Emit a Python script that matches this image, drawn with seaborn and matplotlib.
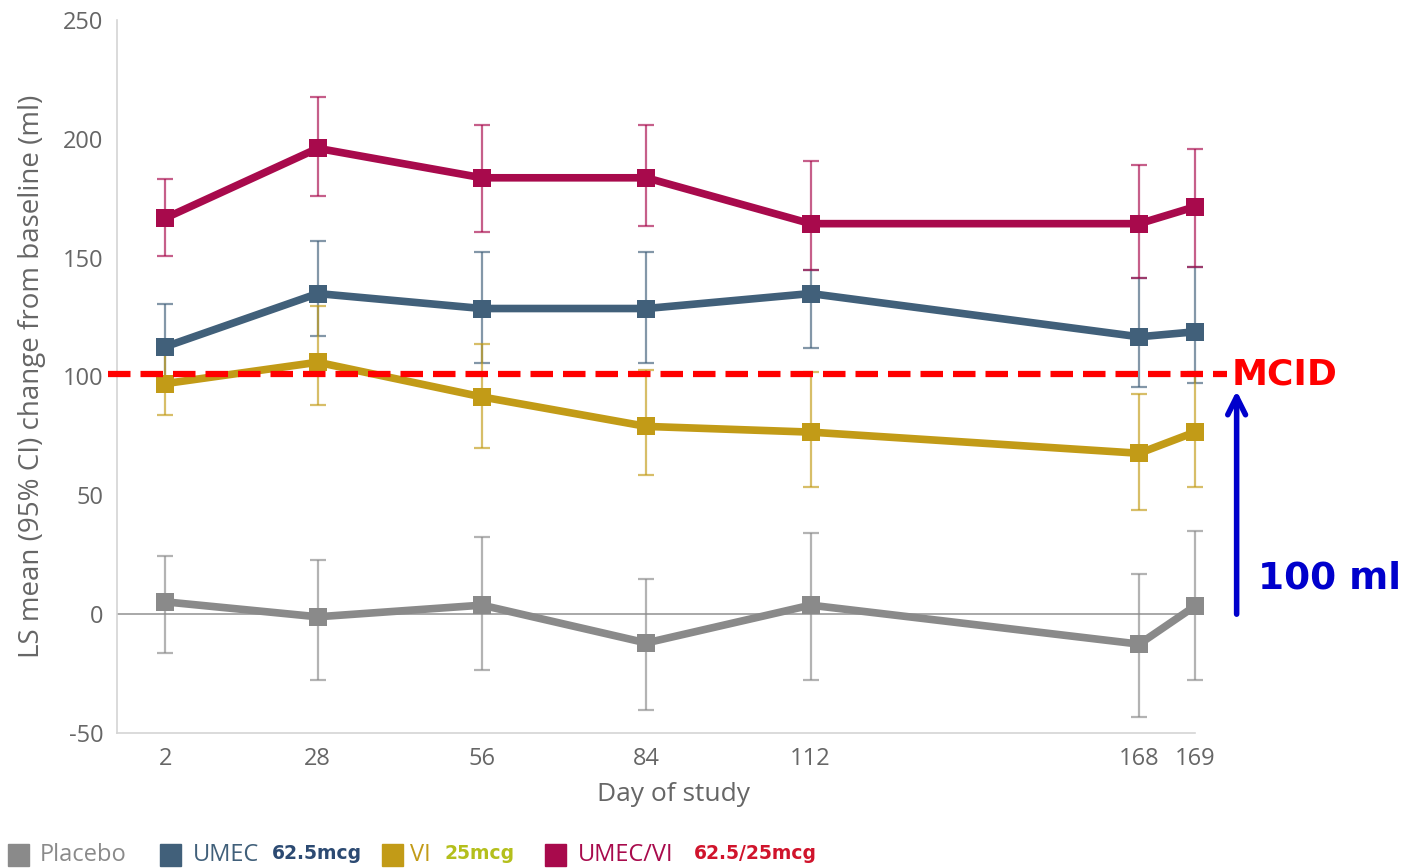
import matplotlib
matplotlib.use('Agg')
import matplotlib.pyplot as plt
import matplotlib.font_manager as fm
import numpy as np
import pandas as pd
import seaborn as sns
from matplotlib.patches import Rectangle

# data
days = [2, 28, 56, 84, 112, 168, 169]
day_labels = ['2', '28', '56', '84', '112', '168', '169']
# the last visit is drawn a bit apart from day 168 on the original axis
x_pos = [2, 28, 56, 84, 112, 168, 177.5]

groups = ['Placebo', 'UMEC', 'VI', 'UMEC/VI']

placebo_mean = [5.2, -1.1, 3.8, -12.1, 3.8, -12.6, 3.4]
placebo_lo = [-16.3, -27.9, -23.3, -40.4, -27.9, -43.2, -27.9]
placebo_hi = [24.5, 22.7, 32.3, 15.0, 34.2, 16.8, 35.0]

umec_mean = [112.5, 134.9, 128.6, 128.6, 134.9, 116.7, 118.8]
umec_lo = [97.7, 117.2, 105.7, 105.7, 112.0, 95.6, 97.3]
umec_hi = [130.7, 157.0, 152.4, 152.4, 145.0, 141.5, 146.1]

vi_mean = [97.0, 106.0, 91.4, 79.0, 76.6, 67.7, 76.6]
vi_lo = [84.0, 88.0, 69.8, 58.5, 53.4, 43.8, 53.4]
vi_hi = [110.0, 129.6, 113.6, 102.6, 102.0, 92.5, 102.0]

umecvi_mean = [166.6, 196.0, 183.6, 183.6, 164.3, 164.3, 171.4]
umecvi_lo = [150.7, 175.9, 161.0, 163.2, 144.7, 141.5, 146.1]
umecvi_hi = [183.0, 217.6, 206.0, 206.0, 190.8, 188.9, 195.6]

mcid = 101
dose_labels = ['', '62.5mcg', '25mcg', '62.5/25mcg']

colors = {'Placebo': '#8a8a8a', 'UMEC': '#41607a',
          'VI': '#c29b17', 'UMEC/VI': '#a80a4c'}
dose_colors = ['#8a8a8a', '#2c4a72', '#b4bf1c', '#d0142c']

sns.set_style('white')
names = {f.name for f in fm.fontManager.ttflist}
light_font = 'Open Sans' if 'Open Sans' in names else 'DejaVu Sans'
plt.rcParams['font.family'] = [light_font, 'DejaVu Sans']
plt.rcParams['axes.unicode_minus'] = False

means = [placebo_mean, umec_mean, vi_mean, umecvi_mean]
los = [placebo_lo, umec_lo, vi_lo, umecvi_lo]
his = [placebo_hi, umec_hi, vi_hi, umecvi_hi]

rows = []
for g, m, lo, hi in zip(groups, means, los, his):
    for d, x, mv, l, h in zip(days, x_pos, m, lo, hi):
        rows.append({'group': g, 'day': d, 'x': x, 'mean': mv, 'lo': l, 'hi': h})
df = pd.DataFrame(rows)

fig = plt.figure(figsize=(14.27, 8.68), dpi=100)
ax = fig.add_axes([0.082, 0.1555, 0.7554, 0.8215])

grid_color = '#d4d4d4'
ax.axhline(0, color='#9a9a9a', lw=1.2, zorder=1)

for g in groups:
    sub = df[df['group'] == g]
    ax.errorbar(sub['x'], sub['mean'],
                yerr=[sub['mean'] - sub['lo'], sub['hi'] - sub['mean']],
                fmt='none', ecolor=colors[g], elinewidth=1.6, capsize=6,
                capthick=1.6, alpha=0.65, zorder=2, clip_on=False)

sns.lineplot(data=df, x='x', y='mean', hue='group', hue_order=groups,
             palette=colors, estimator=None, sort=False, marker='s',
             markersize=13, markeredgewidth=0, linewidth=5.5,
             legend=False, ax=ax, zorder=3, clip_on=False)

ax.set_xlim(-6.2, 177.5)
ax.set_ylim(-50, 250)
ax.set_yticks(range(-50, 251, 50))
ax.set_xticks(x_pos)
ax.set_xticklabels(day_labels)
ax.tick_params(axis='both', direction='in', length=11, width=1.2,
               color=grid_color, labelcolor='#666666', labelsize=17, pad=10)
ax.tick_params(axis='x', length=16, pad=10)
for s in ['top', 'right']:
    ax.spines[s].set_visible(False)
for s in ['left', 'bottom']:
    ax.spines[s].set_color(grid_color)
    ax.spines[s].set_linewidth(1.2)

ax.set_xlabel('Day of study', fontsize=19, color='#666666', labelpad=8, x=0.516)
ax.set_ylabel('LS mean (95% CI) change from baseline (ml)', fontsize=20,
              color='#666666', labelpad=12)

# MCID reference line and annotation
ax.plot([-7.7, 183.0], [mcid, mcid], color='#ff0000', lw=4.5,
        ls=(0, (3.6, 1.6)), clip_on=False, zorder=5)
ax.text(183.8, mcid, 'MCID', color='#ff0000', fontsize=26, fontweight='bold',
        family='DejaVu Sans', ha='left', va='center')
ax.annotate('', xy=(184.6, 94), xytext=(184.6, 0), annotation_clip=False,
            arrowprops=dict(arrowstyle='->', color='#0000cc', lw=4,
                            mutation_scale=32, shrinkA=0, shrinkB=0))
ax.text(188.2, 15, '100 ml', color='#0000cc', fontsize=27, fontweight='bold',
        family='DejaVu Sans', ha='left', va='center')

# legend along the bottom
legend_items = [(8, 40, 'Placebo'), (160, 193, 'UMEC'), (382, 410, 'VI'),
                (545, 578, 'UMEC/VI')]
dose_x = [None, 272, 445, 694]
W, H = fig.get_size_inches() * fig.dpi
y_leg = (868 - 855) / 868
for (sq, tx, name), dx, g, dc, dl in zip(legend_items, dose_x, groups,
                                         dose_colors, dose_labels):
    fig.patches.append(Rectangle((sq / W, (868 - 866) / H), 21 / W, 22 / H,
                                 transform=fig.transFigure, color=colors[g]))
    fig.text(tx / W, y_leg, name, fontsize=17, color=colors[g], va='center')
    if dl:
        fig.text(dx / W, y_leg + 0.002, dl, fontsize=13.5, fontweight='bold',
                 family='DejaVu Sans', color=dc, va='center')

fig.savefig('out.png', dpi=100)
